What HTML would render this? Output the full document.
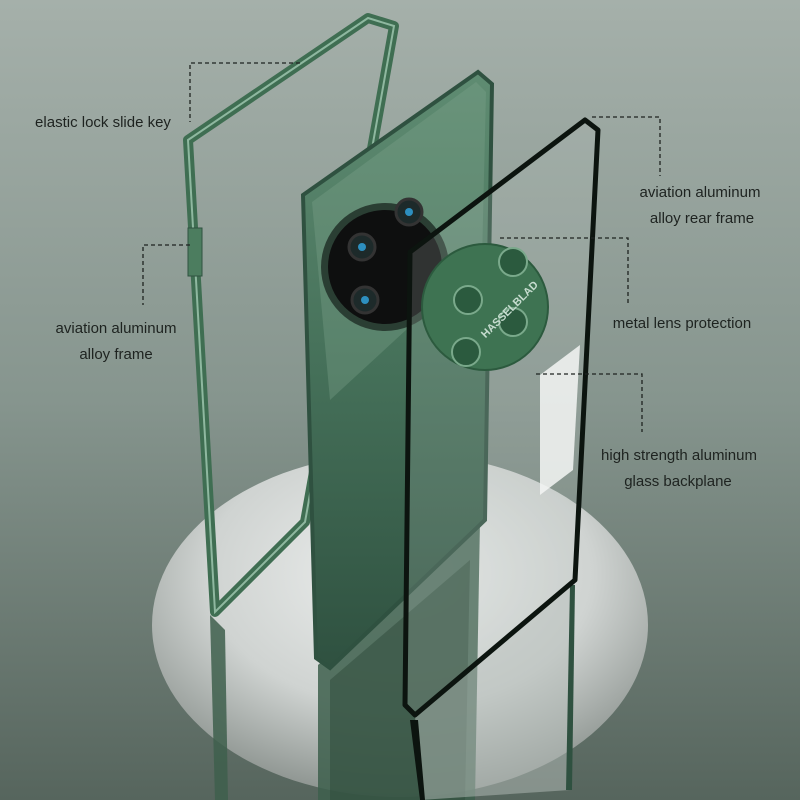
<!DOCTYPE html>
<html><head><meta charset="utf-8"><style>
html,body{margin:0;padding:0;width:800px;height:800px;overflow:hidden}
svg{display:block}
text{font-family:"Liberation Sans",sans-serif;font-size:15px;fill:#1e2320}
</style></head><body>
<svg width="800" height="800" viewBox="0 0 800 800">
<defs>
<linearGradient id="bg" x1="0" y1="0" x2="0" y2="1">
<stop offset="0" stop-color="#a5b0aa"/><stop offset="0.5" stop-color="#86958e"/><stop offset="1" stop-color="#56655d"/>
</linearGradient>
<radialGradient id="disc" cx="0.5" cy="0.35" r="0.65">
<stop offset="0" stop-color="#eef0ef"/><stop offset="0.6" stop-color="#cfd3d1"/><stop offset="1" stop-color="#8e9591"/>
</radialGradient>
<linearGradient id="ph" x1="0" y1="0" x2="0" y2="1">
<stop offset="0" stop-color="#5f8c72"/><stop offset="0.5" stop-color="#457059"/><stop offset="1" stop-color="#2f5140"/>
</linearGradient>
</defs>
<rect width="800" height="800" fill="url(#bg)"/>
<ellipse cx="400" cy="625" rx="248" ry="172" fill="url(#disc)"/>
<!-- reflections -->
<polygon points="210,615 225,630 228,800 215,800" fill="#3e5f4c" opacity="0.85"/>
<polygon points="318,665 480,520 475,800 318,800" fill="#3d5f4c" opacity="0.85"/>
<polygon points="330,680 470,560 465,800 330,800" fill="#2d4a3a" opacity="0.5"/>
<polygon points="415,715 575,580 570,790 420,800" fill="#b5beb9" opacity="0.5"/>
<polygon points="410,720 420,800 425,800 418,720" fill="#0c140f"/>
<polygon points="570,585 575,585 572,790 566,790" fill="#2f5140"/>
<!-- left frame -->
<polygon points="188,140 368,18 394,26 305,522 215,612" fill="none" stroke="#3f6e52" stroke-width="10" stroke-linejoin="round"/>
<polygon points="188,140 368,18 394,26 305,522 215,612" fill="none" stroke="#8fb8a0" stroke-width="2"/>
<rect x="188" y="228" width="14" height="48" fill="#4c7d5f" stroke="#2f5240"/>
<!-- middle phone -->
<polygon points="303,195 478,72 492,84 485,520 330,668 316,658" fill="url(#ph)" stroke="#2f5140" stroke-width="4"/>
<polygon points="312,202 476,82 486,92 482,260 330,400" fill="#7ea38c" opacity="0.35"/>
<circle cx="385" cy="267" r="64" fill="#2a3e33"/>
<circle cx="385" cy="267" r="57" fill="#0e0f0f"/>
<circle cx="362" cy="247" r="13" fill="#1d2a2a" stroke="#333" stroke-width="3"/>
<circle cx="362" cy="247" r="4" fill="#2d8fbf"/>
<circle cx="409" cy="212" r="13" fill="#1d2a2a" stroke="#333" stroke-width="3"/>
<circle cx="409" cy="212" r="4" fill="#2d8fbf"/>
<circle cx="365" cy="300" r="13" fill="#1d2a2a" stroke="#333" stroke-width="3"/>
<circle cx="365" cy="300" r="4" fill="#2d8fbf"/>
<!-- glass back -->
<polygon points="410,252 585,120 598,130 575,580 415,715 405,705" fill="#b9c4be" fill-opacity="0.2" stroke="#0c140f" stroke-width="5" stroke-linejoin="round"/>
<polygon points="540,375 580,345 573,470 540,495" fill="#f4f6f5" opacity="0.85"/>
<circle cx="485" cy="307" r="63" fill="#3e7352" stroke="#2c5a3e" stroke-width="2"/>
<circle cx="468" cy="300" r="14" fill="#2b5a3e" stroke="#7aa98b" stroke-width="2"/>
<circle cx="513" cy="262" r="14" fill="#2b5a3e" stroke="#7aa98b" stroke-width="2"/>
<circle cx="513" cy="322" r="14" fill="#2b5a3e" stroke="#7aa98b" stroke-width="2"/>
<circle cx="466" cy="352" r="14" fill="#2b5a3e" stroke="#7aa98b" stroke-width="2"/>
<text x="470" y="335" transform="rotate(-45 482 318)" style="font-size:11px;fill:#c6dccf;font-weight:bold">HASSELBLAD</text>
<!-- dashed leaders -->
<g fill="none" stroke="#1e2320" stroke-width="1.3" stroke-dasharray="4,3">
<polyline points="300,63 190,63 190,122"/>
<polyline points="190,245 143,245 143,305"/>
<polyline points="592,117 660,117 660,176"/>
<polyline points="500,238 628,238 628,305"/>
<polyline points="536,374 642,374 642,432"/>
</g>
<g text-anchor="middle">
<text x="103" y="127">elastic lock slide key</text>
<text x="116" y="333">aviation aluminum</text>
<text x="116" y="359">alloy frame</text>
<text x="700" y="197">aviation aluminum</text>
<text x="702" y="223">alloy rear frame</text>
<text x="682" y="328">metal lens protection</text>
<text x="679" y="460">high strength aluminum</text>
<text x="678" y="486">glass backplane</text>
</g>
</svg>
</body></html>
